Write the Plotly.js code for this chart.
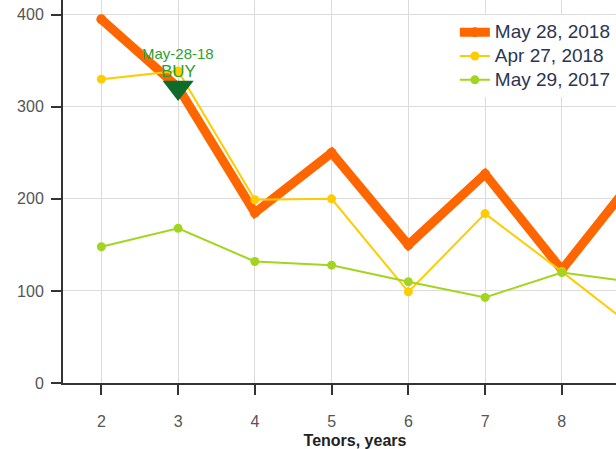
<!DOCTYPE html>
<html>
<head>
<meta charset="utf-8">
<script src="https://cdn.plot.ly/plotly-3.0.1.min.js"></script>
<style>
html, body { margin: 0; padding: 0; overflow: hidden; background: #fff; }
#chart { width: 650px; height: 449px; }
</style>
</head>
<body>
<div id="chart"></div>
<script>
const tenors = [2, 3, 4, 5, 6, 7, 8, 9];
const tickTenors = [2, 3, 4, 5, 6, 7, 8];
const may28_2018 = [395, 321, 185, 250, 150, 227, 123, 228];
const apr27_2018 = [330, 339, 199, 200, 99, 184, 121, 56];
const may29_2017 = [148, 168, 132, 128, 110, 93, 120, 109];
const seriesNames = ['May 28, 2018', 'Apr 27, 2018', 'May 29, 2017'];
const signalTenor = [3];
const signalValue = [321];
const signalDate = 'May-28-18';
const signalLabel = 'BUY';
const xTitle = 'Tenors, years';

function legendName(s) { return '<span style="font-size:19px">' + s + '</span>'; }

const traces = [
  {x: tenors, y: may28_2018, name: legendName(seriesNames[0]), mode: 'lines+markers',
   line: {color: '#ff6600', width: 9}, marker: {color: '#ff6600', size: 10}},
  {x: tenors, y: apr27_2018, name: legendName(seriesNames[1]), mode: 'lines+markers',
   line: {color: '#ffcc00', width: 2}, marker: {color: '#ffcc00', size: 9}},
  {x: tenors, y: may29_2017, name: legendName(seriesNames[2]), mode: 'lines+markers',
   line: {color: '#a2d51f', width: 2}, marker: {color: '#a2d51f', size: 9}},
  {x: signalTenor, y: signalValue, mode: 'markers', showlegend: false,
   marker: {symbol: 'triangle-down', size: 27, color: '#0f6b2a'}}
];

const layout = {
  width: 650, height: 449,
  margin: {l: 63, r: 3, t: 0, b: 66},
  paper_bgcolor: '#fff', plot_bgcolor: '#fff',
  font: {family: 'Arial, Liberation Sans, sans-serif', size: 16, color: '#555'},
  showlegend: true,
  legend: {x: 0.671, y: 0.96, xanchor: 'left', yanchor: 'top',
           bgcolor: '#ffffff', font: {size: 16, color: '#2b3550'}},
  xaxis: {range: [1.5, 9.11], tickvals: tickTenors, showgrid: true, gridcolor: '#dcdcdc', gridwidth: 1,
          zeroline: false, showline: true, linecolor: '#333', linewidth: 2,
          ticks: 'outside', ticklen: 10, tickwidth: 2, tickcolor: '#333',
          ticklabelstandoff: 13,
          tickfont: {size: 16, color: '#555'},
          title: {text: xTitle, font: {size: 16, color: '#222', weight: 'bold'}, standoff: 6}},
  yaxis: {range: [0, 416], tickvals: [0, 100, 200, 300, 400], showgrid: true, gridcolor: '#dcdcdc', gridwidth: 1,
          zeroline: false, showline: true, linecolor: '#333', linewidth: 2,
          ticks: 'outside', ticklen: 10, tickwidth: 2, tickcolor: '#333',
          ticklabelstandoff: 4,
          tickfont: {size: 16, color: '#555'}},
  annotations: [
    {x: signalTenor[0], y: signalValue[0], xref: 'x', yref: 'y', text: signalDate, showarrow: false,
     yshift: 34, font: {size: 15, color: '#2ca02c'}},
    {x: signalTenor[0], y: signalValue[0], xref: 'x', yref: 'y', text: signalLabel, showarrow: false,
     yshift: 16, font: {size: 17, color: '#2ca02c'}}
  ]
};

Plotly.newPlot('chart', traces, layout, {displayModeBar: false, staticPlot: true});
</script>
</body>
</html>
